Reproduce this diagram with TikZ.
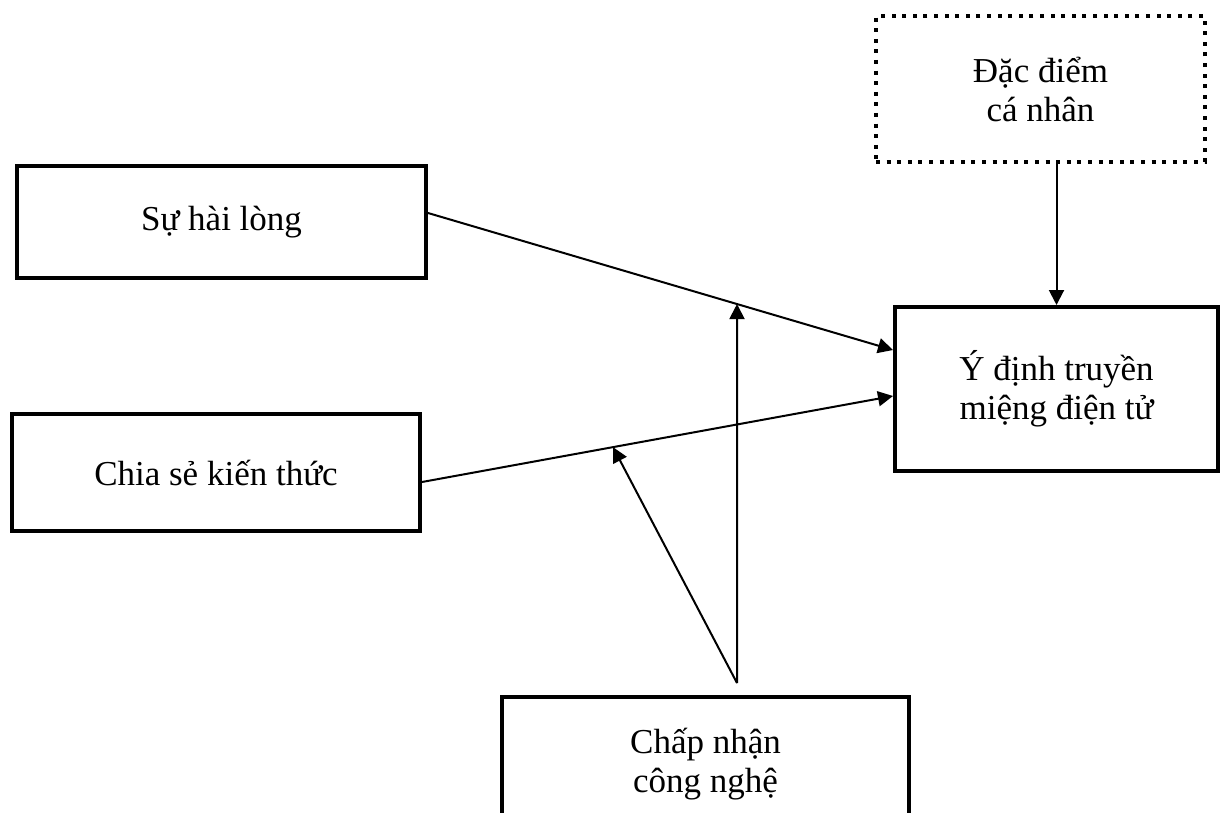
\documentclass[tikz,border=0pt]{standalone}
\usepackage{fontspec}
\setmainfont{Liberation Serif}
\usetikzlibrary{arrows.meta,positioning,calc}

\begin{document}
\begin{tikzpicture}[
  x=0.5pt, y=-0.5pt,
  box/.style={rectangle, draw, line width=2pt, align=center, font=\fontsize{17.5}{19.5}\selectfont},
  dotbox/.style={box, line width=2pt, dash pattern=on 2pt off 3.3pt},
  arrow/.style={-{Triangle[length=7.5pt, width=7.5pt]}, line width=1pt}
]
  \clip (0,0) rectangle (1225,813);

  % Factors
  \node[box, minimum width=204.5pt, minimum height=56pt] (satisfaction) at (221.5, 222) {Sự hài lòng};
  \node[box, minimum width=204pt, minimum height=58.5pt] (knowledge) at (216, 472.5) {Chia sẻ kiến thức};

  % Outcome
  \node[box, minimum width=161.5pt, minimum height=82pt] (intention) at (1056.5, 389) {Ý định truyền\\miệng điện tử};

  % Control
  \node[dotbox, minimum width=164.5pt, minimum height=73pt] (traits) at (1040.5, 89) {Đặc điểm\\cá nhân};

  % Moderator
  \node[box, minimum width=203.5pt, minimum height=67pt] (techaccept) at (705.5, 764) {Chấp nhận\\công nghệ};
  \coordinate (mod) at (737, 683);

  % Main arrows
  \draw[arrow] ($(satisfaction.east)+(0,-9)$) -- ($(intention.west)+(0,-39)$) coordinate[pos=0.6645] (hit1);
  \draw[arrow] ($(knowledge.east)+(0,9.5)$) -- ($(intention.west)+(0,7)$) coordinate[pos=0.4055] (hit2);
  \draw[arrow] (traits.south -| intention.north) -- (intention.north);

  % Moderating arrows
  \draw[arrow] (mod) -- (hit1);
  \draw[arrow] (mod) -- (hit2);
\end{tikzpicture}
\end{document}
